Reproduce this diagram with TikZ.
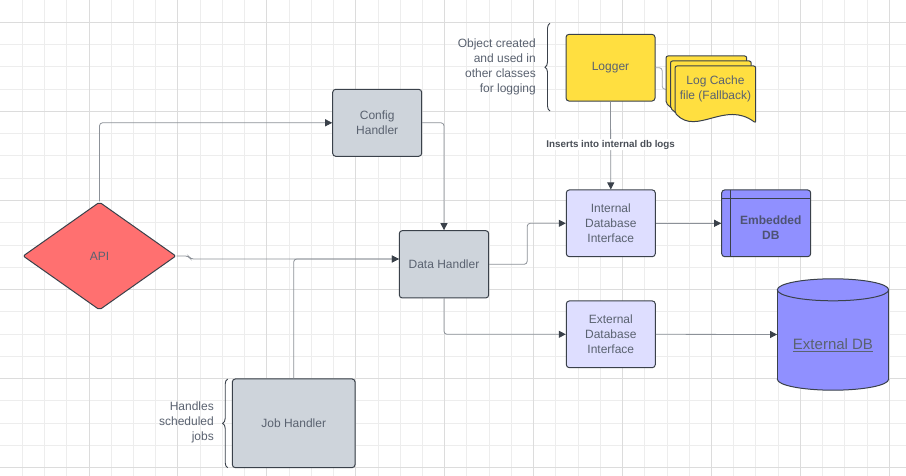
\documentclass[tikz,border=0pt]{standalone}
\usepackage{fontspec}
\setmainfont{Liberation Sans}
\usetikzlibrary{shapes.geometric,arrows.meta,calc,decorations.pathreplacing}
\definecolor{gridminor}{HTML}{EDEDED}
\definecolor{gridmajor}{HTML}{DCDCDC}
\definecolor{bordc}{HTML}{3A414A}
\definecolor{txtc}{HTML}{5A6270}
\definecolor{linec}{HTML}{8C9198}
\definecolor{apired}{HTML}{FF7070}
\definecolor{grayfill}{HTML}{CED4DB}
\definecolor{lavfill}{HTML}{DEDEFF}
\definecolor{dbblue}{HTML}{9090FF}
\definecolor{yellowc}{HTML}{FFDF40}
\definecolor{dbtxt}{HTML}{4E5372}
\definecolor{lbltxt}{HTML}{4A4F57}
\begin{document}
\begin{tikzpicture}[x=1pt,y=-1pt,
  box/.style={draw=bordc, line width=1pt, rounded corners=3pt, inner sep=0pt,
    text=txtc, align=center, font=\fontsize{12}{15}\selectfont},
  conn/.style={draw=linec, line width=0.8pt, rounded corners=3pt,
    -{Triangle[length=7pt,width=7pt,color=bordc]}},
  plainconn/.style={draw=linec!80, line width=0.8pt, rounded corners=3pt},
  lbl/.style={fill=white, inner sep=1pt, text=lbltxt, font=\bfseries\fontsize{9.8}{12}\selectfont},
  note/.style={align=right, text=txtc, font=\fontsize{12}{15}\selectfont, inner sep=0pt},
  bracestyle/.style={draw=bordc, line width=0.9pt, decorate, decoration={brace, amplitude=5pt}},
  docstyle/.style={draw=bordc, line width=1pt, fill=yellowc, rounded corners=2pt}]
\useasboundingbox (0,0) rectangle (906,476);
\fill[white] (0,0) rectangle (906,476);
% grid
\foreach \i in {1,...,40} {\draw[gridminor, line width=0.8pt] ({\i*22.23},0) -- ({\i*22.23},476);}
\foreach \j in {1,...,21} {\draw[gridminor, line width=0.8pt] (0,{\j*22.27}) -- (906,{\j*22.27});}
\foreach \i in {4,8,...,40} {\draw[gridmajor, line width=0.8pt] ({\i*22.23},0) -- ({\i*22.23},476);}
\foreach \j in {1,5,9,13,17,21} {\draw[gridmajor, line width=0.8pt] (0,{\j*22.27}) -- (906,{\j*22.27});}

% nodes
\node[diamond, draw=bordc, line width=1pt, fill=apired, minimum width=153pt, minimum height=108pt,
  aspect=1.417, inner sep=0pt, rounded corners=2pt, text=txtc, font=\fontsize{12}{15}\selectfont] (api) at (99.5,256) {API};
\node[box, fill=grayfill, minimum width=89pt, minimum height=67pt] (config) at (377.2,122.8) {Config\\Handler};
\node[box, fill=grayfill, minimum width=89.4pt, minimum height=67.3pt] (datah) at (444,264.3) {Data Handler};
\node[box, fill=grayfill, minimum width=122.7pt, minimum height=88.7pt] (jobh) at (293.7,423.3) {Job Handler};
\node[box, fill=yellowc, minimum width=89pt, minimum height=66.7pt] (logger) at (610.5,67.7) {Logger};
\node[box, fill=lavfill, minimum width=89pt, minimum height=66.7pt] (intdb) at (610.8,223.3) {Internal\\Database\\Interface};
\node[box, fill=lavfill, minimum width=89pt, minimum height=66.7pt] (extint) at (610.8,334.3) {External\\Database\\Interface};
\node[box, fill=dbblue, minimum width=89pt, minimum height=66.7pt] (embdb) at (766.2,223.3) {};
\draw[bordc, line width=1pt] (embdb.north west |- 0,198.3) -- (embdb.north east |- 0,198.3);
\draw[bordc, line width=1pt] (730.7,190) -- (730.7,256.7);
\node[align=center, text=dbtxt, font=\bfseries\fontsize{12}{15}\selectfont] (embdbtext) at (770.8,227.2) {Embedded\\DB};

% external DB cylinder
\node[minimum width=111.4pt, minimum height=111pt, inner sep=0pt] (extdb) at (833,334.5) {};
\draw[bordc, line width=1pt, fill=dbblue] ($(extdb.south)+(0,-11)$) ellipse [x radius=55.7, y radius=11];
\fill[dbblue] ($(extdb.north west)+(0,11)$) rectangle ($(extdb.south east)+(0,-11)$);
\draw[bordc, line width=1pt] ($(extdb.north west)+(0,11)$) -- ($(extdb.south west)+(0,-11)$);
\draw[bordc, line width=1pt] ($(extdb.north east)+(0,11)$) -- ($(extdb.south east)+(0,-11)$);
\draw[bordc, line width=1pt, fill=dbblue] ($(extdb.north)+(0,11)$) ellipse [x radius=55.7, y radius=11];
\node[text=txtc, font=\fontsize{15}{18}\selectfont, inner sep=0pt] (extdbtext) at (833,345) {\underline{External DB}};

% log cache documents
\coordinate (cachein) at (666,89.3);
\draw[plainconn] (logger.east) -- ++(6.7,0) |- (cachein);
\foreach \dx/\dy in {666/56, 670.5/61, 675/66} {
  \begin{scope}[shift={(\dx,\dy)}]
    \draw[docstyle] (0,47) -- (0,0) -- (80.7,0) -- (80.7,57) .. controls (50,34) and (22,70) .. (0,47) -- cycle;
  \end{scope}
}
\node[align=center, text=txtc, font=\fontsize{12}{15}\selectfont] (logcache) at (715.5,89) {Log Cache\\file (Fallback)};

% braces and notes
\coordinate (lbtop) at (550,23.3);
\coordinate (lbbot) at (550,111);
\draw[bracestyle] (lbbot) -- (lbtop);
\node[note, anchor=east] (lognote) at (536,66.7) {Object created\\and used in\\other classes\\for logging};
\coordinate (jbtop) at (227.7,379);
\coordinate (jbbot) at (227.7,467.7);
\draw[bracestyle] (jbbot) -- (jbtop);
\node[note, anchor=east] (jobnote) at (214,422.3) {Handles\\scheduled\\jobs};

% connectors
\draw[conn] (api.north) |- (config.west);
\draw[conn] (config.east) -| (datah.north);
\draw[conn] (api.east) -- ++(12,0) -- ++(2,3) -- ($(datah.west)+(0,-5.3)$);
\draw[conn] (jobh.north) |- ($(datah.west)+(0,-5.3)$);
\draw[conn] (datah.east) -- ++(38,0) |- (intdb.west);
\draw[conn] (datah.south) |- (extint.west);
\draw[conn] (intdb.east) -- (embdb.west);
\draw[conn] (extint.east) -- (extdb.west);
\draw[conn] (logger.south) -- node[lbl, pos=0.49] (lbl1) {Inserts into internal db logs} (intdb.north);
\end{tikzpicture}
\end{document}
